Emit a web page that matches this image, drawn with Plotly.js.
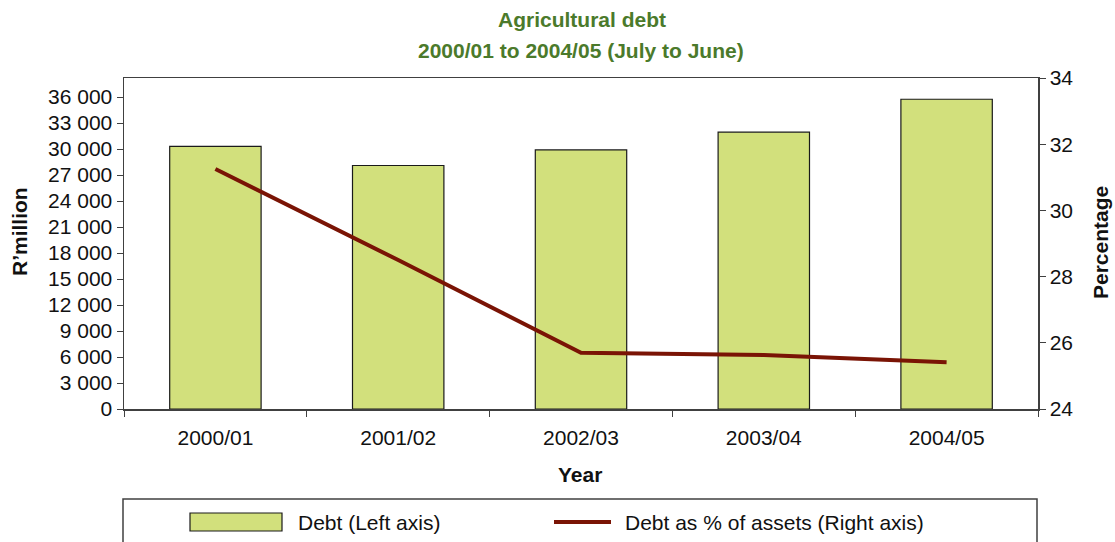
<!DOCTYPE html>
<html>
<head>
<meta charset="utf-8">
<script src="https://cdn.plot.ly/plotly-3.0.1.min.js"></script>
<style>html,body{margin:0;padding:0;background:#fff}#chart{width:1115px;height:542px}</style>
</head>
<body>
<div id="chart"></div>
<script>
var categories = ['2000/01', '2001/02', '2002/03', '2003/04', '2004/05'];
var debtValues = [30300, 28100, 29900, 31950, 35750];
var debtPctAssets = [31.25, 28.5, 25.7, 25.63, 25.41];
var seriesNames = ['Debt (Left axis)', 'Debt as % of assets (Right axis)'];
var leftTicks = [0, 3000, 6000, 9000, 12000, 15000, 18000, 21000, 24000, 27000, 30000, 33000, 36000];
var leftTickText = ['0', '3 000', '6 000', '9 000', '12 000', '15 000', '18 000', '21 000', '24 000', '27 000', '30 000', '33 000', '36 000'];
var rightTicks = [24, 26, 28, 30, 32, 34];

var FONT = 'Liberation Sans, Arial, Helvetica, sans-serif';
var BAR = '#d2e07c';
var LINE = '#7a1405';
var AX = '#404040';
var GREEN = '#4b7a2b';
var TXT = '#111111';

var traces = [
  {
    type: 'bar', x: categories, y: debtValues, name: seriesNames[0],
    marker: {color: BAR, line: {color: '#1a1a1a', width: 1.2}},
    width: 0.5, yaxis: 'y', showlegend: false, hoverinfo: 'x+y'
  },
  {
    type: 'scatter', mode: 'lines', x: categories, y: debtPctAssets, name: seriesNames[1],
    line: {color: LINE, width: 4}, yaxis: 'y2', showlegend: false
  }
];

// paper coords helpers for the plot area (l=124, r=1038, t=78, b=409)
function px(x) { return (x - 124) / 914; }
function py(y) { return (409 - y) / 331; }

var layout = {
  width: 1115, height: 542,
  margin: {l: 124, r: 77, t: 78, b: 133, pad: 0},
  paper_bgcolor: '#fff', plot_bgcolor: '#fff',
  font: {family: FONT, size: 21, color: TXT},
  bargap: 0.5,
  xaxis: {
    type: 'category', showline: true, linecolor: AX, linewidth: 1.5, mirror: true,
    ticks: 'outside', tickson: 'boundaries', ticklen: 6, tickcolor: AX, tickwidth: 1,
    showgrid: false, zeroline: false, ticklabelstandoff: 9,
    tickfont: {family: FONT, size: 21, color: TXT}
  },
  yaxis: {
    range: [0, 38200], tickvals: leftTicks, ticktext: leftTickText,
    showline: true, linecolor: AX, linewidth: 1.5, mirror: true,
    ticks: 'outside', ticklen: 6, tickcolor: AX, tickwidth: 1,
    showgrid: false, zeroline: false,
    tickfont: {family: FONT, size: 21, color: TXT}
  },
  yaxis2: {
    range: [24, 34], tickvals: rightTicks, overlaying: 'y', side: 'right',
    showline: true, linecolor: AX, linewidth: 1.5,
    ticks: 'outside', ticklen: 6, tickcolor: AX, tickwidth: 1,
    showgrid: false, zeroline: false,
    tickfont: {family: FONT, size: 21, color: TXT}
  },
  showlegend: false,
  annotations: [
    {text: '<b>Agricultural debt</b>', xref: 'paper', yref: 'paper', x: px(582), y: py(19), showarrow: false,
     font: {family: FONT, size: 21, color: GREEN}, xanchor: 'center', yanchor: 'middle'},
    {text: '<b>2000/01 to 2004/05 (July to June)</b>', xref: 'paper', yref: 'paper', x: px(581), y: py(50), showarrow: false,
     font: {family: FONT, size: 21, color: GREEN}, xanchor: 'center', yanchor: 'middle'},
    {text: '<b>R’million</b>', xref: 'paper', yref: 'paper', x: px(19), y: py(232), showarrow: false, textangle: -90,
     font: {family: FONT, size: 21, color: TXT}, xanchor: 'center', yanchor: 'middle'},
    {text: '<b>Percentage</b>', xref: 'paper', yref: 'paper', x: px(1100), y: py(243), showarrow: false, textangle: -90,
     font: {family: FONT, size: 21, color: TXT}, xanchor: 'center', yanchor: 'middle'},
    {text: '<b>Year</b>', xref: 'paper', yref: 'paper', x: px(580), y: py(474), showarrow: false,
     font: {family: FONT, size: 21, color: TXT}, xanchor: 'center', yanchor: 'middle'},
    {text: seriesNames[0], xref: 'paper', yref: 'paper', x: px(296), y: py(522), showarrow: false,
     font: {family: FONT, size: 21, color: TXT}, xanchor: 'left', yanchor: 'middle'},
    {text: seriesNames[1], xref: 'paper', yref: 'paper', x: px(623), y: py(522), showarrow: false,
     font: {family: FONT, size: 21, color: TXT}, xanchor: 'left', yanchor: 'middle'}
  ],
  shapes: [
    {type: 'rect', xref: 'paper', yref: 'paper', x0: px(123), x1: px(1037), y0: py(560), y1: py(499),
     line: {color: AX, width: 1.5}, fillcolor: 'rgba(0,0,0,0)'},
    {type: 'rect', xref: 'paper', yref: 'paper', x0: px(190), x1: px(282), y0: py(531), y1: py(513),
     line: {color: '#1a1a1a', width: 1.2}, fillcolor: BAR},
    {type: 'line', xref: 'paper', yref: 'paper', x0: px(554), x1: px(611), y0: py(522), y1: py(522),
     line: {color: LINE, width: 4}}
  ]
};

Plotly.newPlot('chart', traces, layout, {displayModeBar: false, staticPlot: true});
</script>
</body>
</html>
